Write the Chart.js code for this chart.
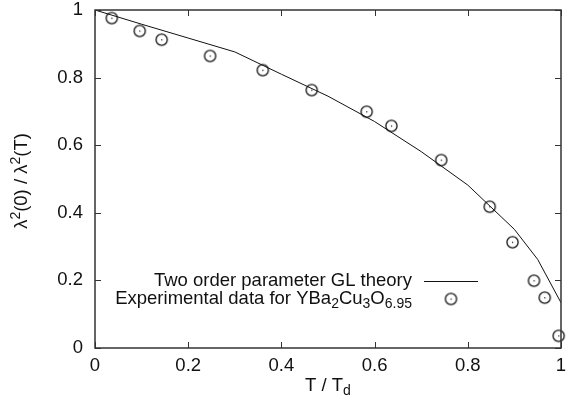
<!DOCTYPE html>
<html>
<head>
<meta charset="utf-8">
<script src="https://cdn.jsdelivr.net/npm/chart.js@4.4.0/dist/chart.umd.min.js"></script>
<style>
  html, body { margin: 0; padding: 0; background: #fff; }
  #wrap { width: 568px; height: 412px; }
</style>
</head>
<body>
<div id="wrap"><canvas id="chart" width="568" height="412"></canvas></div>
<script>
// theory curve (two order parameter GL)
const theoryT = [0, 0.1, 0.2, 0.3, 0.4, 0.5, 0.6, 0.7, 0.8, 0.9, 0.95, 1.0];
const theoryY = [1.0, 0.958, 0.917, 0.876, 0.81, 0.745, 0.67, 0.581, 0.482, 0.351, 0.262, 0.134];
// experimental points
const expT = [0.036, 0.096, 0.143, 0.247, 0.36, 0.465, 0.583, 0.636, 0.743, 0.847, 0.896, 0.942, 0.965, 0.995];
const expY = [0.976, 0.938, 0.912, 0.864, 0.822, 0.763, 0.699, 0.657, 0.556, 0.418, 0.313, 0.199, 0.149, 0.036];
const xTicks = [0, 0.2, 0.4, 0.6, 0.8, 1];
const yTicks = [0, 0.2, 0.4, 0.6, 0.8, 1];

const FONT = '"Liberation Sans", Arial, sans-serif';
const FS = 18.5;
const INK = '#111';

function makeMarker() {
    const c = document.createElement('canvas');
    c.width = 15; c.height = 15;
    const g = c.getContext('2d');
    g.strokeStyle = INK;
    g.lineWidth = 1.3;
    g.beginPath();
    g.arc(7.5, 7.5, 5.6, 0, Math.PI * 2);
    g.stroke();
    g.fillStyle = INK;
    g.fillRect(7, 7, 1.2, 1.2);
    return c;
}
const marker = makeMarker();

// draws text with sub/superscripts, parts = [[text, 'sub'|'sup'|undefined], ...]
function drawRich(ctx, parts, x, y, align) {
    const small = Math.round(FS * 0.75);
    let total = 0;
    parts.forEach(p => {
        ctx.font = (p[1] ? small : FS) + 'px ' + FONT;
        total += ctx.measureText(p[0]).width;
    });
    let cx = align === 'right' ? x - total : align === 'center' ? x - total / 2 : x;
    ctx.textAlign = 'left';
    ctx.textBaseline = 'middle';
    parts.forEach(p => {
        ctx.font = (p[1] ? small : FS) + 'px ' + FONT;
        const dy = p[1] === 'sub' ? 5 : p[1] === 'sup' ? -6 : 0;
        ctx.fillText(p[0], cx, y + dy);
        cx += ctx.measureText(p[0]).width;
    });
}

const decor = {
    id: 'decor',
    afterDatasetsDraw(chart) {
        const ctx = chart.ctx;
        const a = chart.chartArea;
        const xs = chart.scales.x, ys = chart.scales.y;
        ctx.save();
        ctx.strokeStyle = '#333';
        ctx.lineWidth = 1;
        // inward ticks, mirrored
        ctx.beginPath();
        xTicks.forEach(v => {
            const px = Math.round(xs.getPixelForValue(v)) + 0.5;
            ctx.moveTo(px, a.bottom); ctx.lineTo(px, a.bottom - 6);
            ctx.moveTo(px, a.top); ctx.lineTo(px, a.top + 6);
        });
        yTicks.forEach(v => {
            const py = Math.round(ys.getPixelForValue(v)) + 0.5;
            ctx.moveTo(a.left, py); ctx.lineTo(a.left + 6, py);
            ctx.moveTo(a.right, py); ctx.lineTo(a.right - 6, py);
        });
        ctx.stroke();
        // frame
        ctx.lineWidth = 1.5;
        ctx.strokeRect(a.left, a.top, a.right - a.left, a.bottom - a.top);

        ctx.fillStyle = INK;
        // axis titles
        drawRich(ctx, [['T / T'], ['d', 'sub']], (a.left + a.right) / 2, 386, 'center');
        ctx.save();
        ctx.translate(22, (a.top + a.bottom) / 2 + 2);
        ctx.rotate(-Math.PI / 2);
        drawRich(ctx, [['\u03bb'], ['2', 'sup'], ['(0) / \u03bb'], ['2', 'sup'], ['(T)']], 0, 0, 'center');
        ctx.restore();

        // legend
        drawRich(ctx, [['Two order parameter GL theory']], 412, 281, 'right');
        drawRich(ctx, [['Experimental data for YBa'], ['2', 'sub'], ['Cu'], ['3', 'sub'], ['O'], ['6.95', 'sub']], 412, 299, 'right');
        ctx.strokeStyle = INK;
        ctx.lineWidth = 1;
        ctx.beginPath();
        ctx.moveTo(424, 281.5); ctx.lineTo(478, 281.5);
        ctx.stroke();
        ctx.drawImage(marker, 451 - 7.5, 299 - 7.5);
        ctx.restore();
    }
};

new Chart(document.getElementById('chart').getContext('2d'), {
    type: 'scatter',
    data: {
        datasets: [
            {
                type: 'line',
                label: 'Two order parameter GL theory',
                data: theoryT.map((t, i) => ({ x: t, y: theoryY[i] })),
                borderColor: INK,
                borderWidth: 1,
                pointRadius: 0,
                fill: false,
                tension: 0
            },
            {
                label: 'Experimental data',
                data: expT.map((t, i) => ({ x: t, y: expY[i] })),
                pointStyle: marker,
                pointRadius: 6,
                clip: false
            }
        ]
    },
    options: {
        responsive: false,
        animation: false,
        events: [],
        layout: { padding: { top: 10, right: 0, left: 0, bottom: 0 } },
        plugins: { legend: { display: false }, tooltip: { enabled: false } },
        scales: {
            x: {
                type: 'linear', min: 0, max: 1,
                afterBuildTicks: s => { s.ticks = xTicks.map(v => ({ value: v })); },
                afterFit: s => { s.height = 64; s.paddingLeft = 0; s.paddingRight = 0; },
                ticks: { callback: v => String(v), color: INK, font: { family: FONT, size: FS }, padding: 7, maxRotation: 0 },
                grid: { display: false, drawTicks: false, tickLength: 0 },
                border: { display: false }
            },
            y: {
                type: 'linear', min: 0, max: 1,
                afterBuildTicks: s => { s.ticks = yTicks.map(v => ({ value: v })); },
                afterFit: s => { s.width = 95; s.paddingTop = 0; s.paddingBottom = 0; },
                ticks: { callback: v => String(v), color: INK, font: { family: FONT, size: FS }, padding: 12 },
                grid: { display: false, drawTicks: false, tickLength: 0 },
                border: { display: false }
            }
        }
    },
    plugins: [decor]
});
</script>
</body>
</html>
